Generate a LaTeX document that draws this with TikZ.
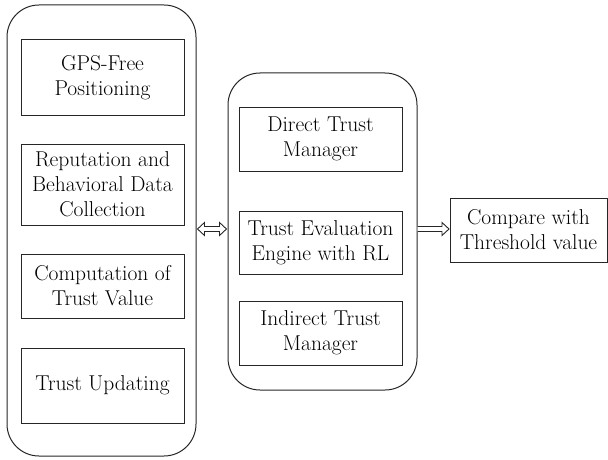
\documentclass[tikz,border=0pt]{standalone}
\usetikzlibrary{calc}
\begin{document}
\begin{tikzpicture}[x=1pt,y=-1pt,
  box/.style={draw=black!85,line width=1pt,minimum width=163pt,align=center,inner sep=2pt,
    font=\fontsize{21.5}{25}\selectfont,text=black},
  group/.style={draw=black!85,line width=1pt,rounded corners=32pt},
  hollow/.style={draw=black!85,line width=0.9pt,fill=white,line join=miter}]
\useasboundingbox (0,0) rectangle (608,460);
\node[group,minimum width=189pt,minimum height=451pt] (L) at (101.5,230.5) {};
\node[box,minimum height=75pt] (l1) at (102.5,77.5) {GPS-Free\\Positioning};
\node[box,minimum height=81pt] (l2) at (102.5,184.5) {Reputation and\\Behavioral Data\\Collection};
\node[box,minimum height=64pt] (l3) at (102.5,286) {Computation of\\Trust Value};
\node[box,minimum height=75pt] (l4) at (102.5,385.5) {Trust Updating};
\node[group,minimum width=189pt,minimum height=317pt] (M) at (322.5,231.5) {};
\node[box,minimum height=64pt] (m1) at (320.5,139) {Direct Trust\\Manager};
\node[box,minimum height=63pt] (m2) at (320.5,242.5) {Trust Evaluation\\Engine with RL};
\node[box,minimum height=64pt] (m3) at (320.5,333) {Indirect Trust\\Manager};
\node[box,minimum width=157pt,minimum height=64pt] (R) at (528.5,230) {Compare with\\Threshold value};
% double-headed hollow arrow between L and M
\coordinate (a1) at ([xshift=1pt]L.east |- 0,229);
\coordinate (a2) at ([xshift=-1pt]M.west |- 0,229);
\draw[hollow] (a1) -- ($(a1)+(7,-6.5)$) -- ($(a1)+(7,-2.5)$) -- ($(a2)+(-7,-2.5)$) -- ($(a2)+(-7,-6.5)$)
  -- (a2) -- ($(a2)+(-7,6.5)$) -- ($(a2)+(-7,2.5)$) -- ($(a1)+(7,2.5)$) -- ($(a1)+(7,6.5)$) -- cycle;
% single hollow arrow from M to R
\coordinate (b1) at (M.east |- 0,229);
\coordinate (b2) at ([xshift=-0.5pt]R.west |- 0,229);
\draw[hollow] ($(b1)+(0,-2.5)$) -- ($(b2)+(-7,-2.5)$) -- ($(b2)+(-7,-6.5)$) -- (b2) -- ($(b2)+(-7,6.5)$)
  -- ($(b2)+(-7,2.5)$) -- ($(b1)+(0,2.5)$);
\end{tikzpicture}
\end{document}
